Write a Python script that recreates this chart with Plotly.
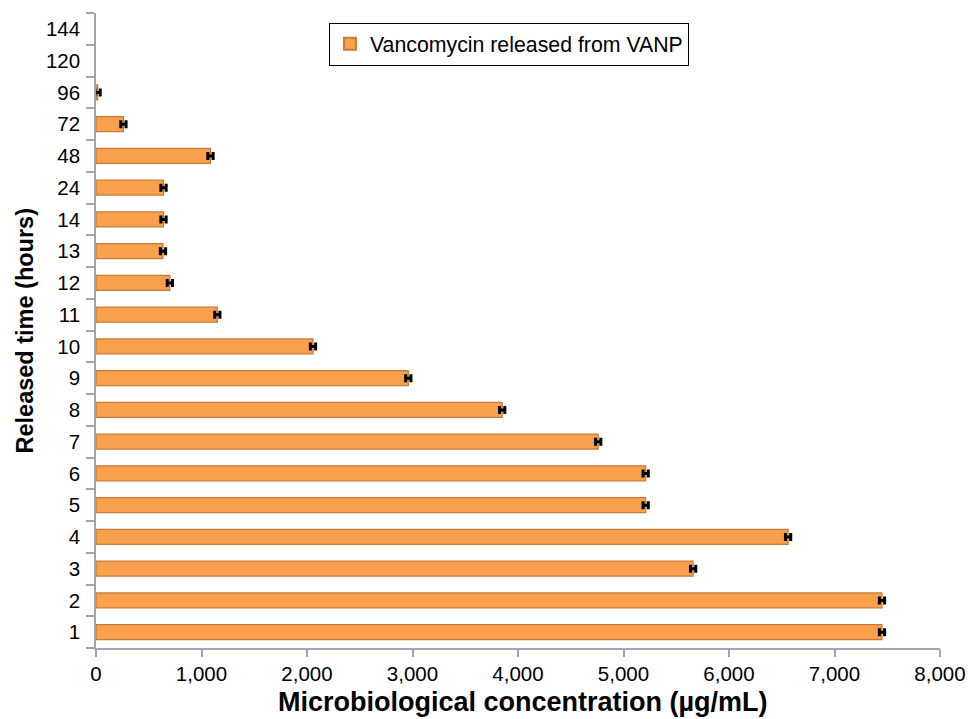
import plotly.graph_objects as go

hours = ["1", "2", "3", "4", "5", "6", "7", "8", "9", "10", "11", "12", "13", "14",
         "24", "48", "72", "96", "120", "144"]
concentration = [7450, 7450, 5660, 6560, 5210, 5210, 4760, 3850, 2960, 2057, 1150, 700,
                 635, 640, 640, 1085, 260, 15, None, None]
error = [25, 25, 25, 25, 25, 25, 25, 25, 25, 25, 25, 25, 25, 25, 25, 25, 25, 25, None, None]
x_ticks = [0, 1000, 2000, 3000, 4000, 5000, 6000, 7000, 8000]
x_tick_text = ["0", "1,000", "2,000", "3,000", "4,000", "5,000", "6,000", "7,000", "8,000"]

FONT = "Liberation Sans, Arial, sans-serif"

fig = go.Figure()
fig.add_trace(go.Bar(
    x=concentration,
    y=hours,
    orientation="h",
    name="Vancomycin released from VANP",
    marker=dict(color="#F8A04B", line=dict(color="#C87A3A", width=1.2)),
    width=0.47,
    error_x=dict(type="data", array=error, visible=True, color="black",
                 thickness=3, width=4),
    showlegend=True,
))

fig.update_layout(
    width=968, height=719,
    paper_bgcolor="white", plot_bgcolor="white",
    margin=dict(l=96, r=28, t=13, b=71),
    font=dict(family=FONT, size=20.5, color="black"),
    showlegend=True,
    legend=dict(
        x=0.276, y=0.985, xanchor="left", yanchor="top",
        bordercolor="black", borderwidth=1, bgcolor="white",
        font=dict(family=FONT, size=21.3, color="black"),
        itemsizing="constant",
    ),
    xaxis=dict(
        range=[0, 8000], tickvals=x_ticks, ticktext=x_tick_text,
        showline=True, linecolor="#A0A6AC", linewidth=1.5,
        ticks="outside", ticklen=7, tickcolor="#A0A6AC", tickwidth=1.5,
        showgrid=False, zeroline=False, automargin=False,
        tickfont=dict(family=FONT, size=20.5),
    ),
    yaxis=dict(
        type="category", categoryorder="array", categoryarray=hours,
        range=[-0.5, len(hours) - 0.5],
        showline=True, linecolor="#A0A6AC", linewidth=1.5,
        ticks="outside", ticklen=8, tickcolor="#A0A6AC", tickwidth=1.5,
        tickson="boundaries", ticklabelstandoff=10,
        showgrid=False, zeroline=False, automargin=False,
        tickfont=dict(family=FONT, size=20.5),
    ),
    annotations=[
        dict(text="<b>Microbiological concentration (µg/mL)</b>",
             xref="paper", yref="paper", x=0.506, y=-0.085,
             xanchor="center", yanchor="middle", showarrow=False,
             font=dict(family=FONT, size=27, color="black")),
        dict(text="<b>Released time (hours)</b>",
             xref="paper", yref="paper", x=-0.0853, y=0.5,
             xanchor="center", yanchor="middle", showarrow=False, textangle=-90,
             font=dict(family=FONT, size=23.5, color="black")),
    ],
)

fig.write_html("out.html",
               config={"displayModeBar": False},
               post_script="document.body.style.margin='0';document.body.style.overflow='hidden';")
